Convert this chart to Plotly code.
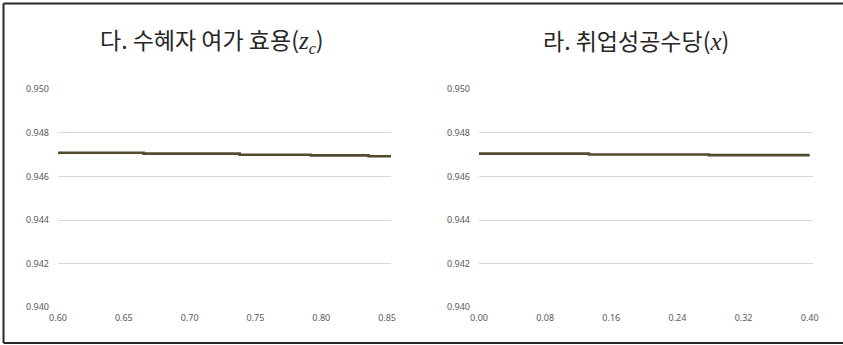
import plotly.graph_objects as go

# Panel 다: 수혜자 여가 효용 (z_c)
zc_x = [0.60, 0.665, 0.738, 0.792, 0.836, 0.853]
zc_y = [0.94709, 0.94705, 0.94700, 0.94697, 0.94693, 0.94693]

# Panel 라: 취업성공수당 (x)
ch_x = [0.00, 0.133, 0.278, 0.40]
ch_y = [0.94705, 0.94701, 0.94698, 0.94698]

left_ticks = [0.60, 0.65, 0.70, 0.75, 0.80, 0.85]
right_ticks = [0.00, 0.08, 0.16, 0.24, 0.32, 0.40]
y_ticks = [0.940, 0.942, 0.944, 0.946, 0.948, 0.950]

W, H = 843, 345
LINE = "#514b30"
GRID = "#d9d9d9"
TICK = "#595959"

fig = go.Figure()
fig.add_trace(go.Scatter(x=zc_x, y=zc_y, mode="lines", line=dict(color=LINE, width=2.6, shape="hv"),
                         xaxis="x", yaxis="y", showlegend=False))
fig.add_trace(go.Scatter(x=ch_x, y=ch_y, mode="lines", line=dict(color=LINE, width=2.6, shape="hv"),
                         xaxis="x2", yaxis="y2", showlegend=False))

tickfont = dict(family="Noto Sans, Liberation Sans, sans-serif", size=9, color=TICK)

def yax(anchor):
    return dict(domain=[1 - 307.3 / H, 1 - 89.3 / H], range=[0.940, 0.950], tickvals=y_ticks,
                tickformat=".3f", showgrid=True, gridcolor=GRID, gridwidth=1, zeroline=False,
                showline=False, ticks="", tickfont=tickfont, anchor=anchor, ticklabelstandoff=8,
                fixedrange=True, automargin=False)

def xax(dom, rng, tv, anchor):
    return dict(domain=dom, range=rng, tickvals=tv, tickformat=".2f", showgrid=False,
                zeroline=False, showline=False, ticks="", tickfont=tickfont, anchor=anchor,
                ticklabelstandoff=4, automargin=False)

serif = "font-family:Liberation Serif"
border = dict(color="#262626", width=2)
x_l, y_t, y_b = 3.5 / W, 1 - 3.5 / H, 1 - 343 / H
fig.update_layout(
    width=W, height=H,
    margin=dict(l=0, r=0, t=0, b=0, autoexpand=False),
    paper_bgcolor="white", plot_bgcolor="white",
    xaxis=xax([58 / W, 391 / W], [0.60, 0.853], left_ticks, "y"),
    yaxis=yax("x"),
    xaxis2=xax([479 / W, 813 / W], [0.0, 0.404], right_ticks, "y2"),
    yaxis2=yax("x2"),
    annotations=[
        dict(text=f"다. 수혜자 여가 효용(<i><span style='{serif};font-size:25px'>z</span></i><sub><i><span style='{serif}'>c</span></i></sub>)",
             x=212 / W, y=1 - 40 / H, xref="paper", yref="paper", showarrow=False,
             xanchor="center", yanchor="middle",
             font=dict(family="Noto Sans CJK KR, sans-serif", size=23, color="#262626")),
        dict(text=f"라. 취업성공수당(<i><span style='{serif};font-size:25px'>x</span></i>)",
             x=636 / W, y=1 - 40 / H, xref="paper", yref="paper", showarrow=False,
             xanchor="center", yanchor="middle",
             font=dict(family="Noto Sans CJK KR, sans-serif", size=23, color="#262626")),
    ],
    shapes=[
        dict(type="line", xref="paper", yref="paper", x0=x_l, x1=x_l, y0=y_b, y1=y_t, line=border, layer="above"),
        dict(type="line", xref="paper", yref="paper", x0=x_l, x1=1.01, y0=y_t, y1=y_t, line=border, layer="above"),
        dict(type="line", xref="paper", yref="paper", x0=x_l, x1=1.01, y0=y_b, y1=y_b, line=border, layer="above"),
    ],
)

fig.write_html(
    "out.html",
    config={"displayModeBar": False},
    post_script="document.documentElement.style.overflow='hidden';document.body.style.margin='0';document.body.style.overflow='hidden';",
)
